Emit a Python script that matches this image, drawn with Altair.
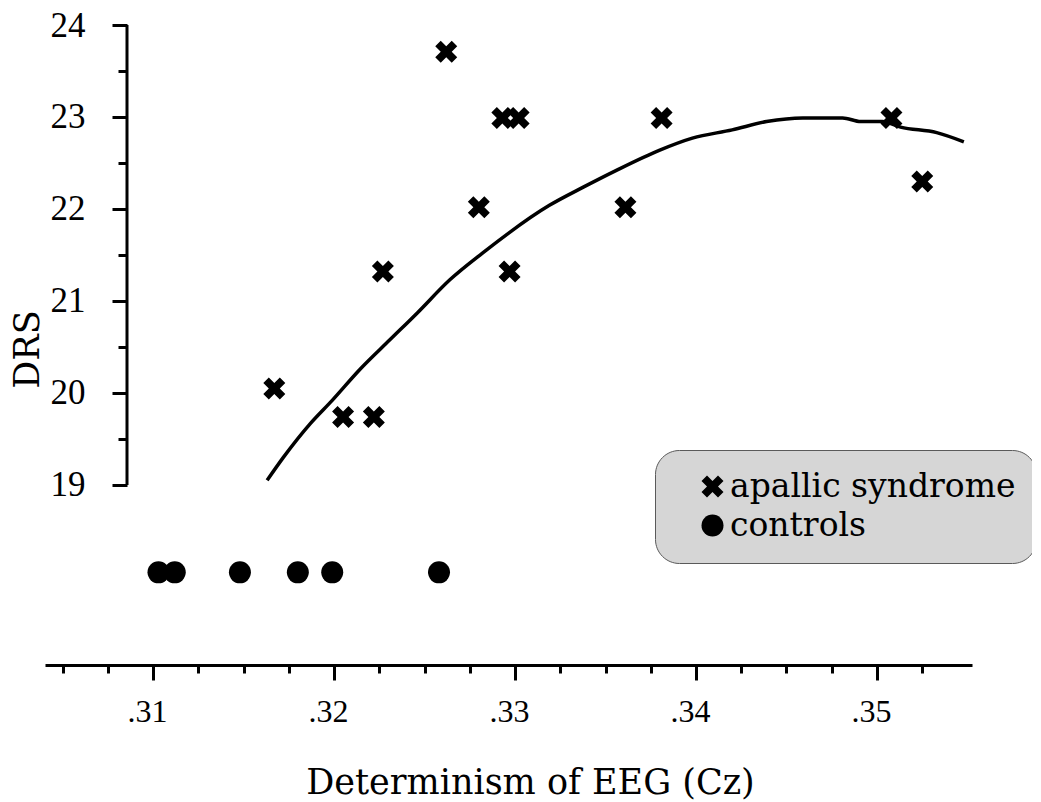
import altair as alt
import pandas as pd

# ---- data ----
apallic_x = [0.3262, 0.3293, 0.3302, 0.3280, 0.3227, 0.3297, 0.3167, 0.3205,
             0.3222, 0.3381, 0.3361, 0.3508, 0.3525]
apallic_drs = [23.71, 22.99, 22.99, 22.02, 21.32, 21.32, 20.05, 19.74,
               19.74, 22.99, 22.02, 22.99, 22.30]
control_x = [0.3103, 0.3112, 0.3148, 0.3180, 0.3199, 0.3258]
control_drs = [18.05, 18.05, 18.05, 18.05, 18.05, 18.05]

fit_x = [0.3163, 0.3172, 0.3187, 0.3199, 0.3214, 0.3231, 0.3246, 0.3264,
         0.3282, 0.3319, 0.3338, 0.3356, 0.3380, 0.3398, 0.3420, 0.3439,
         0.3459, 0.3481, 0.3491, 0.3503, 0.3513, 0.3533, 0.3548]
fit_drs = [19.05, 19.30, 19.67, 19.92, 20.25, 20.58, 20.87, 21.23,
           21.52, 22.04, 22.24, 22.42, 22.64, 22.77, 22.86, 22.95,
           22.99, 22.99, 22.95, 22.95, 22.89, 22.83, 22.73]

x_ticks = [0.305, 0.3075, 0.31, 0.3125, 0.315, 0.3175, 0.32, 0.3225, 0.325,
           0.3275, 0.33, 0.3325, 0.335, 0.3375, 0.34, 0.3425, 0.345, 0.3475,
           0.35, 0.3525]
y_ticks = [19, 19.5, 20, 20.5, 21, 21.5, 22, 22.5, 23, 23.5, 24]
groups = ["apallic syndrome", "controls"]

x_domain = [0.30403, 0.35525]
y_domain = [17.043, 24.0]

X_PATH = ("M-1,-0.5L-0.5,-1L0,-0.5L0.5,-1L1,-0.5L0.5,0L1,0.5L0.5,1L0,0.5"
          "L-0.5,1L-1,0.5L-0.5,0Z")

pts = pd.DataFrame({
    "x": apallic_x + control_x,
    "drs": apallic_drs + control_drs,
    "group": [groups[0]] * len(apallic_x) + [groups[1]] * len(control_x),
})
fit = pd.DataFrame({"x": fit_x, "drs": fit_drs})
yline = pd.DataFrame({"y0": [min(y_ticks)], "y1": [max(y_ticks)]})

xscale = alt.Scale(domain=x_domain, nice=False, zero=False)
yscale = alt.Scale(domain=y_domain, nice=False, zero=False)

MAJOR_X = "abs(datum.value*100 - round(datum.value*100)) < 0.001"

x_axis = alt.Axis(
    values=x_ticks,
    grid=False,
    domainColor="black", domainWidth=3,
    tickColor="black", tickWidth=3,
    tickSize={"condition": {"test": MAJOR_X, "value": 15}, "value": 8},
    labelExpr=MAJOR_X + " ? replace(format(datum.value, '.2f'), '0.', '.') : ''",
    labelFont="Liberation Serif", labelFontSize=32, labelColor="black",
    labelPadding=16, labelOffset=-6, labelOverlap=False, labelFlush=False,
    title="Determinism of EEG (Cz)",
    titleFont="DejaVu Serif", titleFontSize=35, titleFontWeight="normal",
    titleColor="black", titleX=485, titleY=128,
    titleBaseline="alphabetic", titleAlign="center",
)

y_axis = alt.Axis(
    values=y_ticks,
    grid=False,
    domain=False,
    offset=-82,
    tickColor="black", tickWidth=3,
    tickSize={"condition": {"test": "datum.value % 1 == 0", "value": 15}, "value": 9},
    labelExpr="datum.value % 1 == 0 ? format(datum.value, 'd') : ''",
    labelFont="Liberation Serif", labelFontSize=35, labelColor="black",
    labelPadding=27, labelOverlap=False, labelFlush=False,
    title="DRS",
    titleFont="DejaVu Serif", titleFontSize=35, titleFontWeight="normal",
    titleColor="black", titleX=-89, titleY=324, titleAngle=270,
    titleBaseline="alphabetic", titleAlign="center",
)

legend = alt.Legend(
    title=None, orient="none", legendX=610, legendY=425,
    fillColor="#d6d6d6", strokeColor="#5a5a5a", cornerRadius=24,
    padding=20, symbolOffset=21, symbolSize=484,
    symbolFillColor="black", symbolStrokeColor="black", symbolStrokeWidth=0,
    labelFont="DejaVu Serif", labelFontSize=33, labelColor="black",
    labelOffset=1, rowPadding=5, labelLimit=500,
)

points = alt.Chart(pts).mark_point(filled=True, size=484, opacity=1).encode(
    x=alt.X("x:Q", scale=xscale, axis=x_axis),
    y=alt.Y("drs:Q", scale=yscale, axis=y_axis),
    shape=alt.Shape("group:N", scale=alt.Scale(domain=groups, range=[X_PATH, "circle"]),
                    legend=legend),
    color=alt.value("black"),
)

line = alt.Chart(fit).mark_line(color="black", strokeWidth=3.5,
                                interpolate="monotone").encode(
    x=alt.X("x:Q", scale=xscale),
    y=alt.Y("drs:Q", scale=yscale),
)

axis_line = alt.Chart(yline).mark_rule(color="black", strokeWidth=3).encode(
    x=alt.value(82),
    y=alt.Y("y0:Q", scale=yscale),
    y2="y1:Q",
)

chart = alt.layer(line, axis_line, points).properties(
    width=927, height=640,
    autosize=alt.AutoSizeParams(type="none"),
    padding={"left": 37, "top": 17, "right": 60, "bottom": 137},
    background="white",
).configure_view(strokeWidth=0)

chart.save("out.html", embed_options={"renderer": "svg", "actions": False})
